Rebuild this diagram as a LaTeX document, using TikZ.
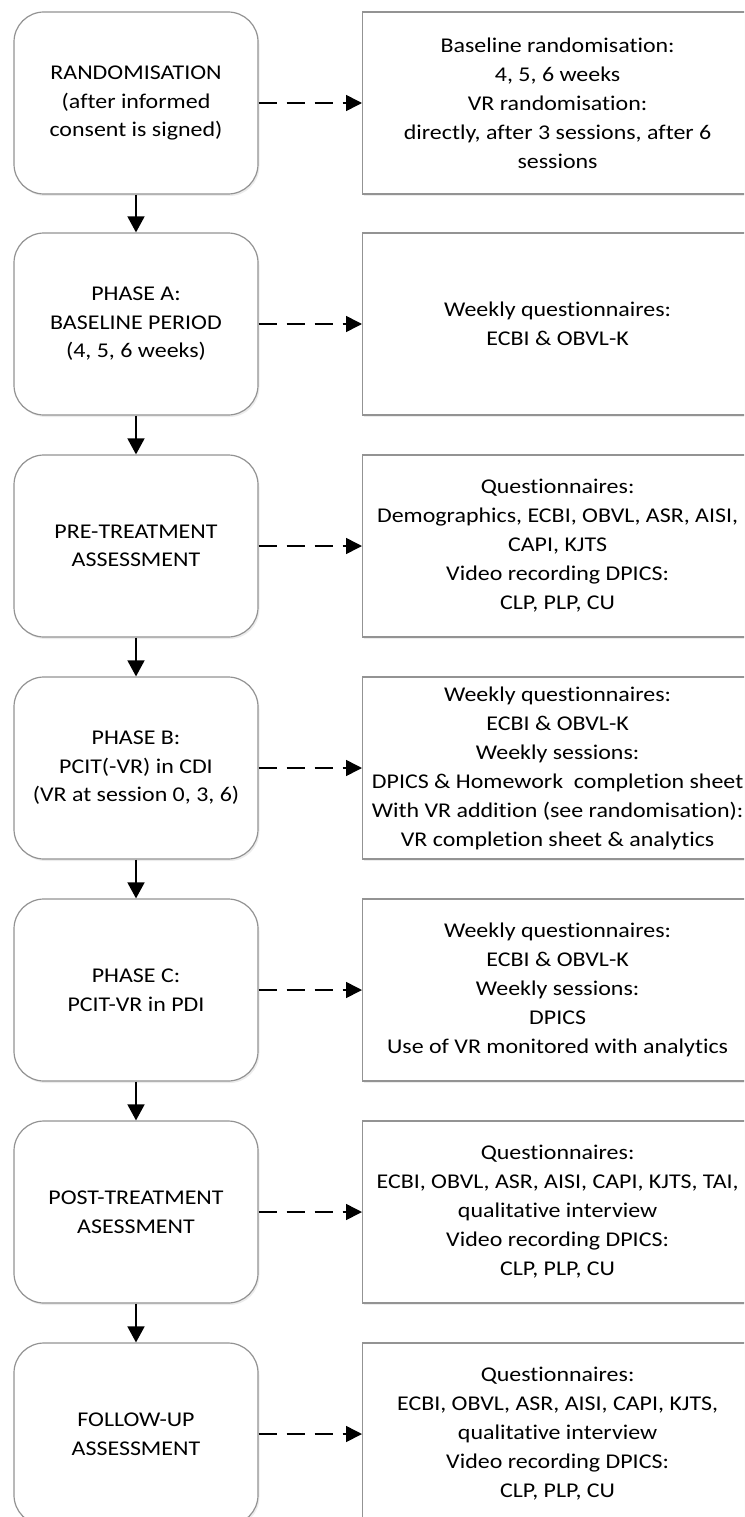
\documentclass[tikz,border=0pt]{standalone}
\usepackage{fontspec}
\setmainfont{Carlito}[FakeStretch=1.14, Ligatures=NoCommon]
\usetikzlibrary{arrows.meta,shadows}

\tikzset{
  phase/.style={draw=gray!85, line width=1.2pt, rounded corners=30pt, fill=white,
    minimum width=244pt, minimum height=182pt, inner sep=0pt, align=center,
    font=\fontsize{21}{28.5}\selectfont,
    drop shadow={shadow xshift=1.5pt, shadow yshift=-2pt, opacity=0.15}},
  info/.style={draw=gray!85, line width=1.2pt, fill=white, anchor=west,
    minimum width=390pt, minimum height=182pt, inner sep=0pt, align=center,
    font=\fontsize{21}{29}\selectfont,
    drop shadow={shadow xshift=1.5pt, shadow yshift=-2pt, opacity=0.15}},
  flow/.style={-{Triangle[length=16pt,width=17pt]}, line width=1.6pt},
  link/.style={-{Triangle[length=16pt,width=16pt]}, line width=1.6pt, dash pattern=on 18pt off 10pt},
}

\begin{document}
\begin{tikzpicture}[x=1pt,y=1pt]

\useasboundingbox (0,0) rectangle (744,-1517);
\clip (0,0) rectangle (744,-1517);

% left column
\node[phase] (rand) at (136,-103) {RANDOMISATION\\(after informed\\consent is signed)};
\node[phase] (phasea) at (136,-324) {PHASE A:\\BASELINE PERIOD\\(4, 5, 6 weeks)};
\node[phase] (pre) at (136,-546) {PRE-TREATMENT\\ASSESSMENT};
\node[phase] (phaseb) at (136,-768) {PHASE B:\\PCIT(-VR) in CDI\\(VR at session 0, 3, 6)};
\node[phase] (phasec) at (136,-990) {PHASE C:\\PCIT-VR in PDI};
\node[phase] (post) at (136,-1212) {POST-TREATMENT\\ASESSMENT};
\node[phase] (follow) at (136,-1434) {FOLLOW-UP\\ASSESSMENT};

% right column
\node[info] (randinfo) at (362,-103) {Baseline randomisation:\\4, 5, 6 weeks\\VR randomisation:\\directly, after 3 sessions, after 6\\sessions};
\node[info] (phaseainfo) at (362,-324) {Weekly questionnaires:\\ECBI \& OBVL-K};
\node[info] (preinfo) at (362,-546) {Questionnaires:\\Demographics, ECBI, OBVL, ASR, AISI,\\CAPI, KJTS\\Video recording DPICS:\\CLP, PLP, CU};
\node[info] (phasebinfo) at (362,-768) {Weekly questionnaires:\\ECBI \& OBVL-K\\Weekly sessions:\\DPICS \& Homework\ \ completion sheet\\With VR addition (see randomisation):\\VR completion sheet \& analytics};
\node[info] (phasecinfo) at (362,-990) {Weekly questionnaires:\\ECBI \& OBVL-K\\Weekly sessions:\\DPICS\\Use of VR monitored with analytics};
\node[info] (postinfo) at (362,-1212) {Questionnaires:\\ECBI, OBVL, ASR, AISI, CAPI, KJTS, TAI,\\qualitative interview\\Video recording DPICS:\\CLP, PLP, CU};
\node[info] (followinfo) at (362,-1434) {Questionnaires:\\ECBI, OBVL, ASR, AISI, CAPI, KJTS,\\qualitative interview\\Video recording DPICS:\\CLP, PLP, CU};

% flow down
\draw[flow] (rand) -- (phasea);
\draw[flow] (phasea) -- (pre);
\draw[flow] (pre) -- (phaseb);
\draw[flow] (phaseb) -- (phasec);
\draw[flow] (phasec) -- (post);
\draw[flow] (post) -- (follow);

% measures
\draw[link] (rand.east) -- (randinfo.west);
\draw[link] (phasea.east) -- (phaseainfo.west);
\draw[link] (pre.east) -- (preinfo.west);
\draw[link] (phaseb.east) -- (phasebinfo.west);
\draw[link] (phasec.east) -- (phasecinfo.west);
\draw[link] (post.east) -- (postinfo.west);
\draw[link] (follow.east) -- (followinfo.west);

\end{tikzpicture}
\end{document}
